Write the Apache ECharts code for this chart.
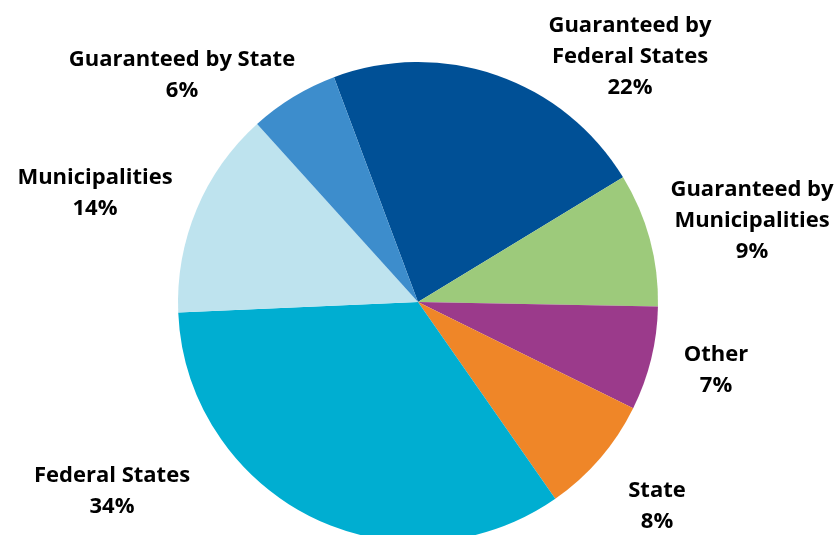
<!DOCTYPE html>
<html>
<head>
<meta charset="utf-8">
<script src="https://cdn.jsdelivr.net/npm/echarts@6/dist/echarts.min.js"></script>
<style>
  html, body { margin: 0; padding: 0; background: #ffffff; }
  #chart { width: 839px; height: 535px; }
</style>
</head>
<body>
<div id="chart"></div>
<script>
// Issuer categories and their shares (percent), in clockwise order
const categories = [
  'Guaranteed by\nFederal States',
  'Guaranteed by\nMunicipalities',
  'Other',
  'State',
  'Federal States',
  'Municipalities',
  'Guaranteed by State'
];
const shares = [22, 9, 7, 8, 34, 14, 6];

const sliceColors = ['#005096', '#9dca7b', '#9b3a8b', '#ef8628', '#00aed1', '#bee3ee', '#3d8dcc'];

// Centre of each label block, placed around the pie
const labelSpots = [
  [630, 57],
  [752, 221],
  [716, 370],
  [657, 506],
  [112, 491],
  [95, 193],
  [182, 75]
];

const chart = echarts.init(document.getElementById('chart'), null, { renderer: 'canvas' });

chart.setOption({
  animation: false,
  backgroundColor: '#ffffff',
  series: [{
    type: 'pie',
    center: [418, 302],
    radius: 240,
    startAngle: 110.5,
    clockwise: true,
    avoidLabelOverlap: false,
    data: categories.map((name, i) => ({
      name: name,
      value: shares[i],
      itemStyle: { color: sliceColors[i] }
    })),
    itemStyle: { borderWidth: 0 },
    label: {
      show: true,
      position: 'outside',
      formatter: p => p.name + '\n' + p.value + '%',
      fontFamily: 'Open Sans',
      fontWeight: 'bold',
      fontSize: 22,
      lineHeight: 31,
      color: '#000000',
      align: 'center'
    },
    labelLine: { show: false },
    labelLayout: p => ({
      x: labelSpots[p.dataIndex][0],
      y: labelSpots[p.dataIndex][1],
      align: 'center',
      verticalAlign: 'middle'
    })
  }]
});
</script>
</body>
</html>
